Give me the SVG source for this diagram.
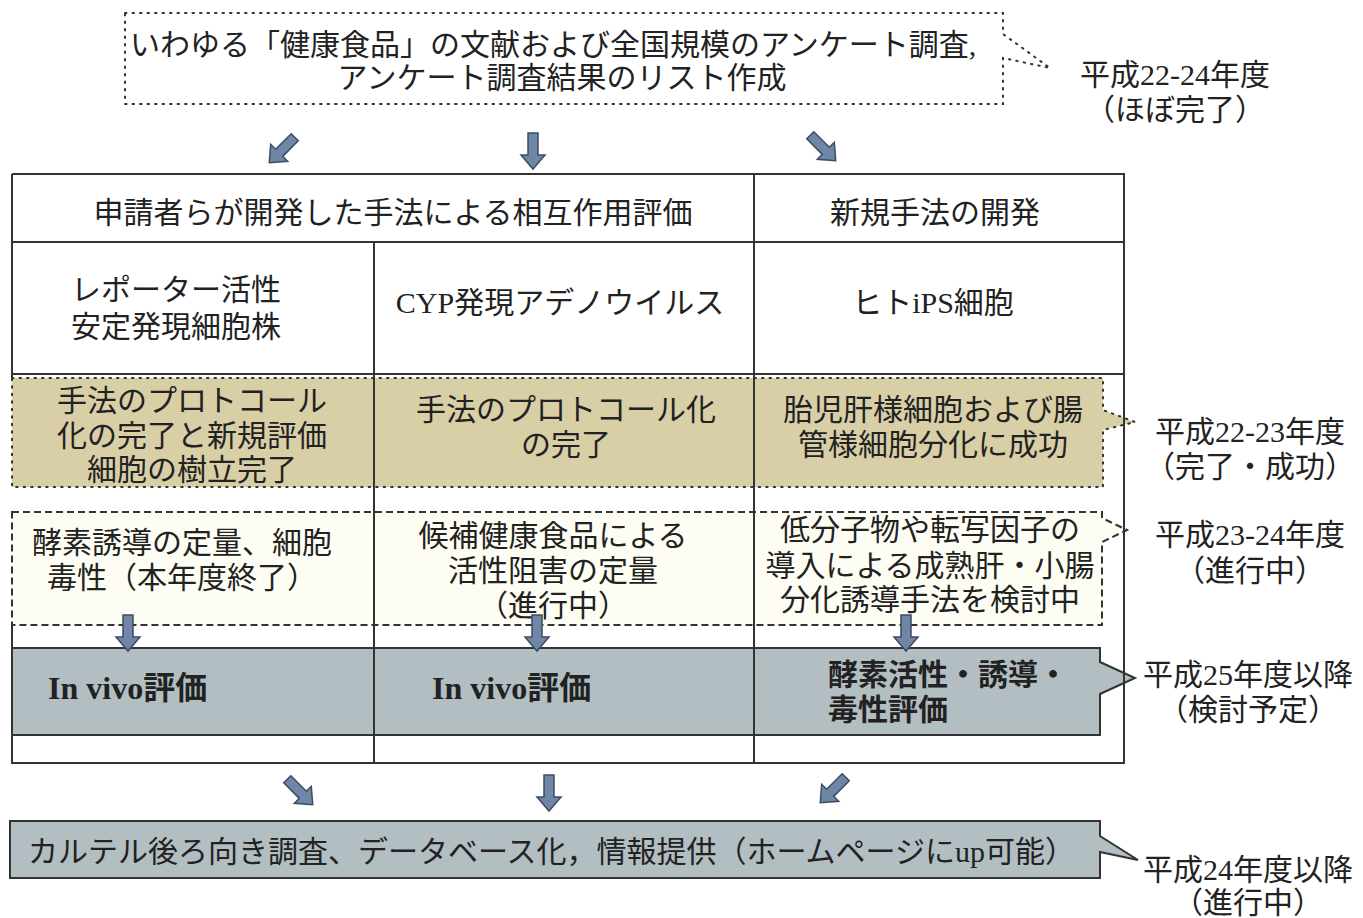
<svg xmlns="http://www.w3.org/2000/svg" xmlns:xlink="http://www.w3.org/1999/xlink" width="1363" height="918" viewBox="0 0 1363 918">
<style>
text{font-family:"Liberation Serif","Noto Sans CJK JP",serif;font-size:30px;fill:#222}
.c{text-anchor:middle}
.b{font-weight:bold}
.ln{stroke:#333;stroke-width:2;fill:none}
.dot{stroke:#333;stroke-width:2;stroke-dasharray:1.5 6;stroke-linecap:round}
.dash{stroke:#333;stroke-width:2;stroke-dasharray:7 4}
.tan{fill:#d9cfa7}
.gray{fill:#b2bec2;stroke:#333;stroke-width:2}
.arw{fill:#6f86a6;stroke:#3c4b66;stroke-width:1.5}
</style>
<defs>
<path id="arr" class="arw" d="M-5,-18 L5,-18 L5,4 L12,4 L0,18 L-12,4 L-5,4 Z"/>
</defs>
<rect width="1363" height="918" fill="#fff"/>

<g id="survey">
<path class="dot" fill="#fff" d="M125,13 L1003,13 L1003,34 L1050,68 L1003,58 L1003,104 L125,104 Z"/>
<text x="130" y="55">いわゆる「健康食品」の文献および全国規模のアンケート調査,</text>
<text class="c" x="562" y="88">アンケート調査結果のリスト作成</text>
</g>
<g id="label-h22-24">
<text class="c" x="1175" y="85">平成22-24年度</text>
<text class="c" x="1175" y="120">（ほぼ完了）</text>
</g>

<g id="tan-row">
<path class="tan dot" d="M12,378 L1103,378 L1103,410 L1135,422 L1103,430 L1103,487 L12,487 Z"/>
</g>
<g id="dashed-row">
<path class="dash" fill="#fdfdf3" d="M12,512 L1102,512 L1102,518 L1127,530 L1102,542 L1102,625 L12,625 Z"/>
</g>
<g id="invivo-row">
<path class="gray" d="M12,648 L1100,648 L1100,662 L1135,678 L1100,694 L1100,735 L12,735 Z"/>
</g>

<g id="table">
<path class="ln" d="M12,174 L1124,174 L1124,763 L12,763 L12,625 M12,378 L12,174 M12,242 L1124,242 M12,374 L1124,374 M374,242 L374,763 M754,174 L754,763"/>
</g>

<g id="cell-header-a"><text class="c" x="393" y="223">申請者らが開発した手法による相互作用評価</text></g>
<g id="cell-header-b"><text class="c" x="935" y="223">新規手法の開発</text></g>
<g id="cell-reporter">
<text class="c" x="176" y="300">レポーター活性</text>
<text class="c" x="176" y="337">安定発現細胞株</text>
</g>
<g id="cell-cyp"><text class="c" x="560" y="313">CYP発現アデノウイルス</text></g>
<g id="cell-ips"><text class="c" x="933" y="313">ヒトiPS細胞</text></g>

<g id="cell-tan-1">
<text class="c" x="192" y="411">手法のプロトコール</text>
<text class="c" x="192" y="446">化の完了と新規評価</text>
<text class="c" x="192" y="480">細胞の樹立完了</text>
</g>
<g id="cell-tan-2">
<text class="c" x="566" y="420">手法のプロトコール化</text>
<text class="c" x="566" y="455">の完了</text>
</g>
<g id="cell-tan-3">
<text class="c" x="933" y="420">胎児肝様細胞および腸</text>
<text class="c" x="933" y="455">管様細胞分化に成功</text>
</g>
<g id="label-h22-23">
<text class="c" x="1250" y="442">平成22-23年度</text>
<text class="c" x="1250" y="477">（完了・成功）</text>
</g>

<g id="cell-dash-1">
<text class="c" x="182" y="553">酵素誘導の定量、細胞</text>
<text class="c" x="182" y="588">毒性（本年度終了）</text>
</g>
<g id="cell-dash-2">
<text class="c" x="553" y="546">候補健康食品による</text>
<text class="c" x="553" y="581">活性阻害の定量</text>
<text class="c" x="553" y="616">（進行中）</text>
</g>
<g id="cell-dash-3">
<text class="c" x="930" y="540">低分子物や転写因子の</text>
<text class="c" x="930" y="576">導入による成熟肝・小腸</text>
<text class="c" x="930" y="610">分化誘導手法を検討中</text>
</g>
<g id="label-h23-24">
<text class="c" x="1250" y="545">平成23-24年度</text>
<text class="c" x="1250" y="581">（進行中）</text>
</g>

<g id="cell-invivo-1"><text class="b" x="48" y="699" style="font-size:32px">In vivo評価</text></g>
<g id="cell-invivo-2"><text class="b" x="432" y="699" style="font-size:32px">In vivo評価</text></g>
<g id="cell-invivo-3">
<text class="b" x="828" y="685">酵素活性・誘導・</text>
<text class="b" x="828" y="720">毒性評価</text>
</g>
<g id="label-h25">
<text class="c" x="1248" y="685">平成25年度以降</text>
<text class="c" x="1248" y="720">（検討予定）</text>
</g>

<g id="database">
<path class="gray" d="M10,821 L1100,821 L1100,836 L1138,860 L1100,852 L1100,878 L10,878 Z"/>
<text x="28" y="862">カルテル後ろ向き調査、データベース化，情報提供（ホームページにup可能）</text>
</g>
<g id="label-h24">
<text class="c" x="1248" y="880">平成24年度以降</text>
<text class="c" x="1248" y="913">（進行中）</text>
</g>

<g id="connectors">
<use xlink:href="#arr" transform="translate(282,150) rotate(45)"/>
<use xlink:href="#arr" transform="translate(533,151)"/>
<use xlink:href="#arr" transform="translate(823,148) rotate(-45)"/>
<use xlink:href="#arr" transform="translate(128,633)"/>
<use xlink:href="#arr" transform="translate(537,633)"/>
<use xlink:href="#arr" transform="translate(906,633)"/>
<use xlink:href="#arr" transform="translate(300,792) rotate(-45)"/>
<use xlink:href="#arr" transform="translate(549,793)"/>
<use xlink:href="#arr" transform="translate(833,790) rotate(45)"/>
</g>
</svg>
